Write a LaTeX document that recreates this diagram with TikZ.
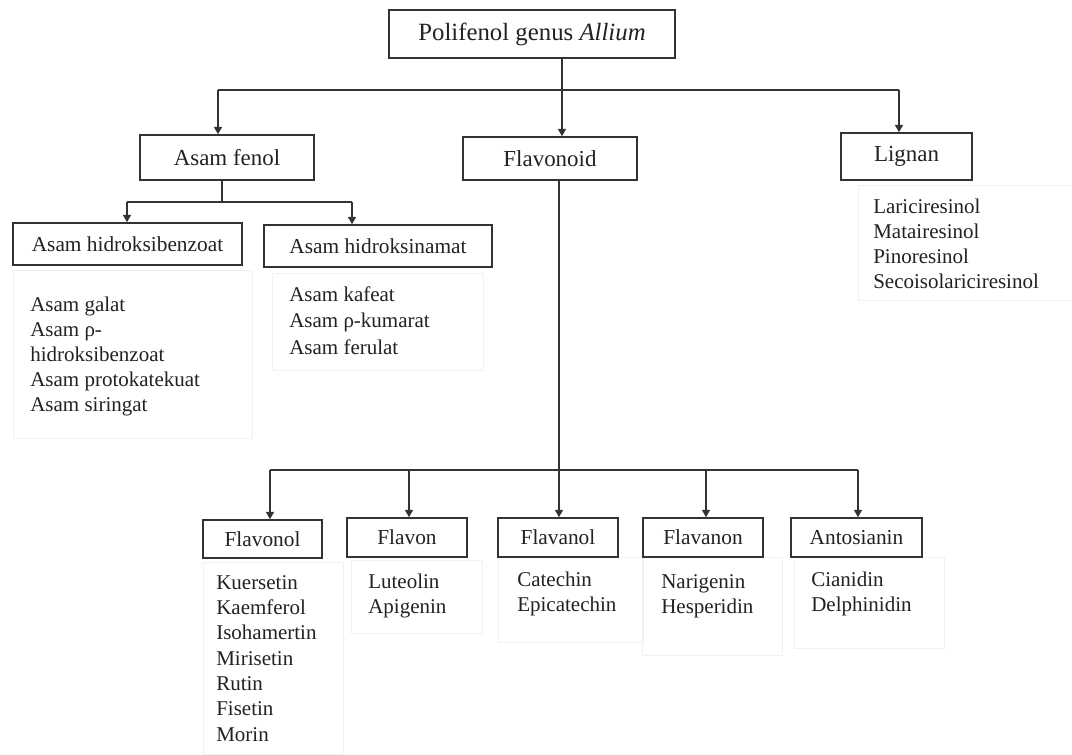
\documentclass[tikz,border=0pt]{standalone}
\usepackage{fontspec}
\setmainfont{Liberation Serif}
\usetikzlibrary{arrows.meta}
\definecolor{ink}{HTML}{222222}
\definecolor{ln}{HTML}{333333}
\definecolor{faint}{HTML}{F1F1F1}
\newcommand\lsttab[1]{\begin{tabular}[t]{@{}l@{}}#1\end{tabular}}
\begin{document}
\begin{tikzpicture}[x=0.75pt,y=-0.75pt,
  box/.style={draw=ln,line width=1.2pt,inner sep=0pt,text=ink,rectangle},
  tbox/.style={box,font=\fontsize{18.6}{22}\selectfont},
  lone/.style={box,font=\fontsize{17.2}{20}\selectfont},
  ltwo/.style={box,font=\fontsize{16}{19}\selectfont},
  lst/.style={anchor=base west,inner sep=0pt,text=ink,font=\fontsize{15.75}{18.75}\selectfont},
  frm/.style={draw=faint,line width=0.6pt},
  con/.style={draw=ln,line width=1.1pt},
  arr/.style={con,-{Triangle[width=6pt,length=5.5pt]}}]
\useasboundingbox[fill=white] (0,0) rectangle (1072,754);

% faint frames around lists
\draw[frm] (13,270) rectangle (252,438);
\draw[frm] (272,273) rectangle (483,370);
\draw[frm] (858,185) rectangle (1072,300);
\draw[frm] (203,562) rectangle (343,754);
\draw[frm] (351,560) rectangle (482,633);
\draw[frm] (498,557) rectangle (643,642);
\draw[frm] (642,557) rectangle (782,655);
\draw[frm] (794,557) rectangle (944,648);

% boxes
\node[tbox,minimum width=286*0.75pt,minimum height=48*0.75pt] (p) at (532,34) {Polifenol genus \textit{Allium}};
\node[lone,minimum width=174*0.75pt,minimum height=45*0.75pt] (af) at (227,157.5) {Asam fenol};
\node[lone,minimum width=174*0.75pt,minimum height=43*0.75pt] (fl) at (550,158.5) {Flavonoid};
\node[lone,minimum width=131*0.75pt,minimum height=47*0.75pt] (lg) at (906.5,156.5) {Lignan};
\node[ltwo,minimum width=229*0.75pt,minimum height=42*0.75pt] (hb) at (127.5,244) {Asam hidroksibenzoat};
\node[ltwo,minimum width=228*0.75pt,minimum height=42*0.75pt] (hn) at (378,246) {Asam hidroksinamat};
\node[ltwo,minimum width=119*0.75pt,minimum height=38*0.75pt] (b1) at (262.5,539) {Flavonol};
\node[ltwo,minimum width=120*0.75pt,minimum height=39*0.75pt] (b2) at (407,537.5) {Flavon};
\node[ltwo,minimum width=120*0.75pt,minimum height=39*0.75pt] (b3) at (558,537.5) {Flavanol};
\node[ltwo,minimum width=120*0.75pt,minimum height=39*0.75pt] (b4) at (703,537.5) {Flavanon};
\node[ltwo,minimum width=131*0.75pt,minimum height=39*0.75pt] (b5) at (856.5,537.5) {Antosianin};

% lists
\node[lst] (l1) at (30,311) {\lsttab{Asam galat\\Asam ρ-\\hidroksibenzoat\\Asam protokatekuat\\Asam siringat}};
\node[lst,font=\fontsize{15.75}{19.9}\selectfont] (l2) at (289,301) {\lsttab{Asam kafeat\\Asam ρ-kumarat\\Asam ferulat}};
\node[lst] (l3) at (873,213) {\lsttab{Lariciresinol\\Matairesinol\\Pinoresinol\\Secoisolariciresinol}};
\node[lst,font=\fontsize{15.75}{19}\selectfont] (l4) at (216,589) {\lsttab{Kuersetin\\Kaemferol\\Isohamertin\\Mirisetin\\Rutin\\Fisetin\\Morin}};
\node[lst] (l5) at (368,588) {\lsttab{Luteolin\\Apigenin}};
\node[lst] (l6) at (517,586) {\lsttab{Catechin\\Epicatechin}};
\node[lst] (l7) at (661,588) {\lsttab{Narigenin\\Hesperidin}};
\node[lst] (l8) at (811,586) {\lsttab{Cianidin\\Delphinidin}};

% top level connectors
\coordinate (j1) at (562,90);
\coordinate (bL) at (218,90);
\coordinate (bR) at (899,90);
\draw[con] (p.south -| j1) -- (j1);
\draw[con] (bL) -- (bR);
\draw[arr] (j1) -- (j1 |- fl.north);
\draw[arr] (bL) -- (bL |- af.north);
\draw[arr] (bR) -- (bR |- lg.north);

% asam fenol connectors
\coordinate (j2) at (222,202);
\coordinate (cL) at (127,202);
\coordinate (cR) at (352,202);
\draw[con] (af.south -| j2) -- (j2);
\draw[con] (cL) -- (cR);
\draw[arr] (cL) -- (cL |- hb.north);
\draw[arr] (cR) -- (cR |- hn.north);

% flavonoid connectors
\coordinate (j3) at (559,470);
\coordinate (d1) at (270,470);
\coordinate (d2) at (409,470);
\coordinate (d4) at (706,470);
\coordinate (d5) at (858,470);
\draw[con] (fl.south -| j3) -- (j3);
\draw[con] (d1) -- (d5);
\draw[arr] (d1) -- (d1 |- b1.north);
\draw[arr] (d2) -- (d2 |- b2.north);
\draw[arr] (j3) -- (j3 |- b3.north);
\draw[arr] (d4) -- (d4 |- b4.north);
\draw[arr] (d5) -- (d5 |- b5.north);
\end{tikzpicture}
\end{document}
